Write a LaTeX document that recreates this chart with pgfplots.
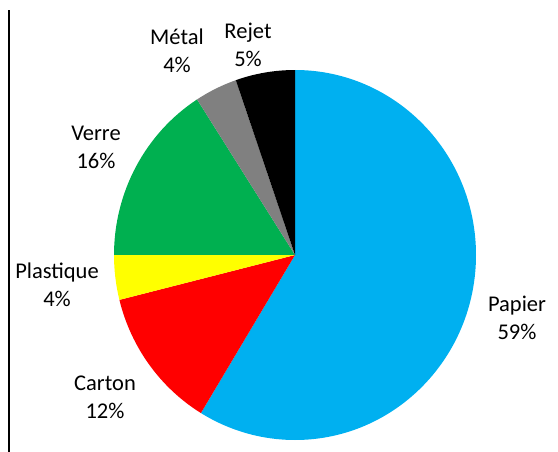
\documentclass[border=0pt]{standalone}
\usepackage{fontspec}
\setmainfont{Carlito}
\usepackage{pgfplots}
\usepackage{pgfplotstable}
\pgfplotsset{compat=1.18}

\definecolor{papier}{HTML}{00B0F0}
\definecolor{carton}{HTML}{FF0000}
\definecolor{plastique}{HTML}{FFFF00}
\definecolor{verre}{HTML}{00B050}
\definecolor{metal}{HTML}{808080}
\definecolor{rejet}{HTML}{000000}

\tikzset{lbl/.style={font=\fontsize{22.5bp}{28bp}\selectfont, align=center, text=black, inner sep=0pt}}

% share in percent, clockwise from 12 o'clock
\pgfplotstableread{
share col
58.7 papier
12.4 carton
3.9  plastique
15.9 verre
3.8  metal
5.3  rejet
}\piedata

\begin{document}
\begin{tikzpicture}
\useasboundingbox (0,0) rectangle (558bp,452bp);
\begin{axis}[
    at={(0,0)}, anchor=south west,
    x=1bp, y=1bp, scale only axis,
    xmin=0, xmax=558, ymin=0, ymax=452,
    hide axis, clip=false
]
\pgfplotstablegetrowsof{\piedata}
\pgfmathtruncatemacro\lastrow{\pgfplotsretval-1}
\gdef\angA{90}
\pgfplotsforeachungrouped \i in {0,...,\lastrow}{
    \pgfplotstablegetelem{\i}{share}\of\piedata \let\sh\pgfplotsretval
    \pgfplotstablegetelem{\i}{col}\of\piedata \let\cl\pgfplotsretval
    \pgfmathsetmacro\angB{\angA-3.6*\sh}
    \edef\temp{\noexpand\fill[\cl] (axis cs:295,197) -- ++(\angA:181bp and 185bp)
        arc[start angle=\angA, end angle=\angB, x radius=181bp, y radius=185bp] -- cycle;}
    \temp
    \global\let\angA\angB
}

% left axis line
\draw[line width=2bp, black] (axis cs:9,0) -- (axis cs:9,442);

% data labels
\node[lbl] at (axis cs:517,134.5) {Papier\\59\%};
\node[lbl] at (axis cs:105,54.5) {Carton\\12\%};
\node[lbl] at (axis cs:57,167) {Plastique\\4\%};
\node[lbl] at (axis cs:96,304.5) {Verre\\16\%};
\node[lbl] at (axis cs:177,401) {Métal\\4\%};
\node[lbl] at (axis cs:248,407.5) {Rejet\\5\%};
\end{axis}
\end{tikzpicture}
\end{document}
